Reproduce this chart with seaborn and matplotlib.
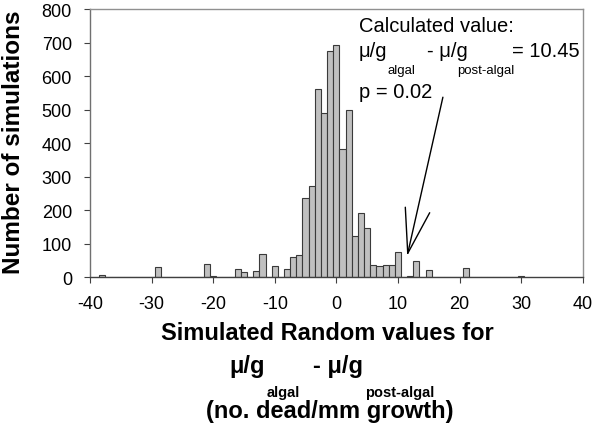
import matplotlib
matplotlib.use("Agg")
import matplotlib.pyplot as plt
import seaborn as sns
import pandas as pd

# Data (bin centres, counts)
centers = [-38, -29, -21, -20, -16, -15, -13, -12, -10, -8, -7, -6, -5, -4, -3, -2, -1,
           0, 1, 2, 3, 4, 5, 6, 7, 8, 9, 10, 12, 13, 15, 21, 30]
counts = [6, 32, 39, 5, 24, 16, 18, 69, 35, 25, 61, 67, 236, 272, 560, 490, 675,
          693, 383, 500, 122, 192, 146, 37, 33, 37, 37, 75, 4, 50, 21, 27, 4]
xticks = [-40, -30, -20, -10, 0, 10, 20, 30, 40]
yticks = [0, 100, 200, 300, 400, 500, 600, 700, 800]

sns.set_style("ticks")
plt.rcParams['font.family'] = ['Liberation Sans', 'DejaVu Sans']
plt.rcParams['text.color'] = 'black'
plt.rcParams['xtick.labelcolor'] = 'black'
plt.rcParams['ytick.labelcolor'] = 'black'

W, H = 597, 435
fig = plt.figure(figsize=(W / 100, H / 100), dpi=100)
ax = fig.add_axes([90 / W, 1 - 278.3 / H, (582.7 - 90) / W, (278.3 - 10) / H])

df = pd.DataFrame({"value": centers, "count": counts})
sns.histplot(data=df, x="value", weights="count", discrete=True, ax=ax,
             color="#c0c0c0", edgecolor="#3a3a3a", linewidth=0.8, alpha=1)

ax.set_xlim(-40, 40)
ax.set_ylim(0, 800)
ax.set_xticks(xticks)
ax.set_yticks(yticks)
ax.set_xticklabels([str(t) for t in xticks], fontsize=13, color="black")
ax.set_yticklabels([str(t) for t in yticks], fontsize=13, color="black")
ax.set_xlabel("")
ax.set_ylabel("")
ax.tick_params(axis='x', direction='out', length=4, width=0.8, color="#404040", pad=9)
ax.tick_params(axis='y', direction='out', length=4, width=0.8, color="#404040", pad=9)
for side in ["top", "right"]:
    ax.spines[side].set_visible(True)
    ax.spines[side].set_color("#909090")
    ax.spines[side].set_linewidth(1.0)
ax.spines["left"].set_color("#707070")
ax.spines["bottom"].set_color("#404040")
ax.spines["left"].set_linewidth(1.0)
ax.spines["bottom"].set_linewidth(1.0)


def ftext(x, y, s, **kw):
    fig.text(x / W, 1 - y / H, s, color="black", **kw)


# y label
ftext(14, 142, "Number of simulations", rotation=90, ha="center", va="center",
      fontsize=17.5, fontweight="bold")

# x label block
ftext(327, 340, "Simulated Random values for", ha="center", va="baseline",
      fontsize=17, fontweight="bold")
ftext(229, 373, "\u03bc/g", ha="left", va="baseline", fontsize=17, fontweight="bold")
ftext(313, 373, "- \u03bc/g", ha="left", va="baseline", fontsize=17, fontweight="bold")
ftext(267, 397, "algal", ha="left", va="baseline", fontsize=10.5, fontweight="bold")
ftext(365, 397, "post-algal", ha="left", va="baseline", fontsize=10.5, fontweight="bold")
ftext(330, 418, "(no. dead/mm growth)", ha="center", va="baseline",
      fontsize=17, fontweight="bold")

# annotation
ftext(359, 32, "Calculated value:", ha="left", va="baseline", fontsize=14.5)
ftext(359, 57, "\u03bc/g", ha="left", va="baseline", fontsize=14.5)
ftext(427, 57, "- \u03bc/g", ha="left", va="baseline", fontsize=14.5)
ftext(512, 57, "= 10.45", ha="left", va="baseline", fontsize=14.5)
ftext(388, 74, "algal", ha="left", va="baseline", fontsize=9.5)
ftext(457, 74, "post-algal", ha="left", va="baseline", fontsize=9.5)
ftext(359, 98, "p = 0.02", ha="left", va="baseline", fontsize=14.5)

ax.annotate("", xy=(11.5, 64), xytext=(17.3, 537), xycoords="data",
            arrowprops=dict(arrowstyle="->,head_length=1.6,head_width=0.45",
                            color="black", lw=1.0, mutation_scale=20,
                            shrinkA=0, shrinkB=0))

fig.savefig("out.png", dpi=100)
